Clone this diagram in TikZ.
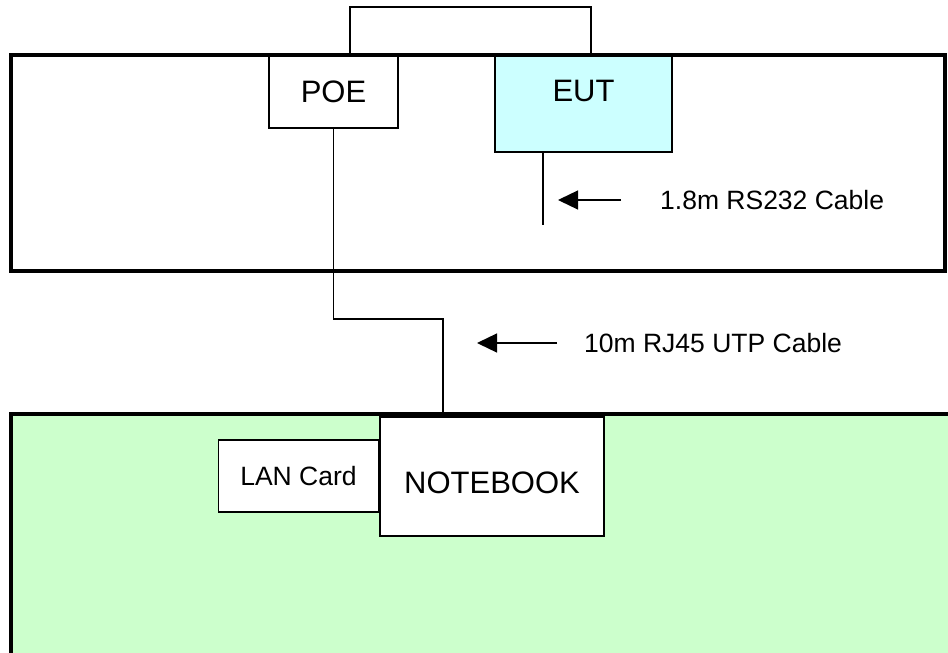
\documentclass[tikz,border=0pt]{standalone}
\usepackage{fontspec}
\setmainfont{Liberation Sans}
\usepackage{xcolor}
\usepackage{tikz}
\usetikzlibrary{calc, positioning, arrows.meta}

\definecolor{eutcyan}{HTML}{CCFFFF}
\definecolor{labgreen}{HTML}{CCFFCC}

\begin{document}
\begin{tikzpicture}[x=1pt, y=-1pt,
    roomframe/.style={line width=3.5pt},
    unitbox/.style={draw, line width=1.5pt, fill=white, inner sep=0pt},
    cablewire/.style={line width=1.3pt},
    pointer/.style={line width=1.3pt, -{Triangle[length=20pt, width=19pt]}},
    bigtxt/.style={font=\fontsize{31}{36}\selectfont},
    smalltxt/.style={font=\fontsize{26.5}{30}\selectfont, inner sep=0pt}]

    \useasboundingbox (0,0) rectangle (948,653);

    % =================================================================
    % 1. TABLE WITH THE EUT AND THE POE
    % =================================================================
    \draw[roomframe] (11,55) rectangle (945,271);

    \node[unitbox, bigtxt, minimum width=129pt, minimum height=72pt,
        anchor=north] (poe) at (333.5,55) {POE};
    \node[unitbox, bigtxt, fill=eutcyan, minimum width=177pt, minimum height=96pt,
        text depth=26pt, anchor=north] (eut) at (583.5,55) {EUT};

    % Cable between POE and EUT, going over the table
    \draw[cablewire] ($(poe.north)+(16.5,0)$) -- ++(0,-48) -| ($(eut.north)+(7.5,0)$);

    % RS232 cable hanging from the EUT
    \draw[cablewire] ($(eut.south)+(-40.5,0)$) -- ++(0,72);
    \node[smalltxt, anchor=west] (rslbl) at (660,200) {1.8m RS232 Cable};
    \draw[pointer] ([xshift=-39pt]rslbl.west) -- ++(-63,0);

    % =================================================================
    % 2. TABLE WITH THE NOTEBOOK
    % =================================================================
    \fill[labgreen] (11,414) rectangle (970,680);
    \draw[roomframe] (970,414) -- (11,414) -- (11,680);

    \node[unitbox, bigtxt, minimum width=224pt, minimum height=119pt,
        text height=35pt, anchor=north] (notebook) at (492,416) {NOTEBOOK};
    \node[unitbox, smalltxt, minimum width=160pt, minimum height=72pt,
        anchor=north east] (lan) at ($(notebook.north west)+(0,23)$) {LAN Card};

    % =================================================================
    % 3. UTP CABLE FROM THE POE TO THE NOTEBOOK
    % =================================================================
    \coordinate (bend) at (443,319);
    \draw[cablewire] (poe.south) |- (bend) -- (bend |- notebook.north);
    \node[smalltxt, anchor=west] (utplbl) at (584,343) {10m RJ45 UTP Cable};
    \draw[pointer] ([xshift=-27pt]utplbl.west) -- ++(-80,0);

\end{tikzpicture}
\end{document}
